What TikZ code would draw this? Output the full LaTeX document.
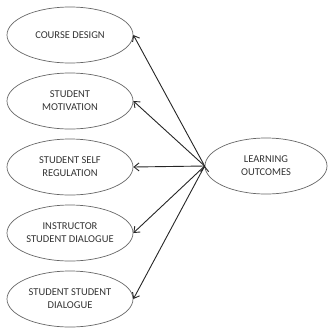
\documentclass[tikz,border=0pt]{standalone}
\usepackage{fontspec}
\setmainfont{Carlito}
\usetikzlibrary{arrows.meta,positioning,shapes.geometric}

\begin{document}
\begin{tikzpicture}[x=1pt,y=-1pt,>={Straight Barb[length=5pt,width=8pt]},thick,node distance=66pt,
    factor node/.style={ellipse,draw=black!60,line width=0.7pt,minimum width=126pt,minimum height=56pt,inner sep=0pt,align=center,text=black!80,font=\fontsize{10.5}{13}\selectfont},
    link/.style={->,draw=black!85,line width=0.9pt}]
    \useasboundingbox (0,0) rectangle (328,327);

    \node[factor node] (design) at (70,35) {COURSE DESIGN};
    \node[factor node] (motiv) [below of = design] {STUDENT\\MOTIVATION};
    \node[factor node] (selfreg) [below of = motiv] {STUDENT SELF\\REGULATION};
    \node[factor node] (instr) [below of = selfreg] {INSTRUCTOR\\STUDENT DIALOGUE};
    \node[factor node] (peer) [below of = instr] {STUDENT STUDENT\\DIALOGUE};

    \node[factor node,minimum width=122pt] (outcomes) at (266,166) {LEARNING\\OUTCOMES};

    \path[link]
        (outcomes.west) edge (design.east)
        (outcomes.west) edge (motiv.east)
        (outcomes.west) edge (selfreg.east)
        (outcomes.west) edge (instr.east)
        (outcomes.west) edge (peer.east)
        ;
\end{tikzpicture}
\end{document}
